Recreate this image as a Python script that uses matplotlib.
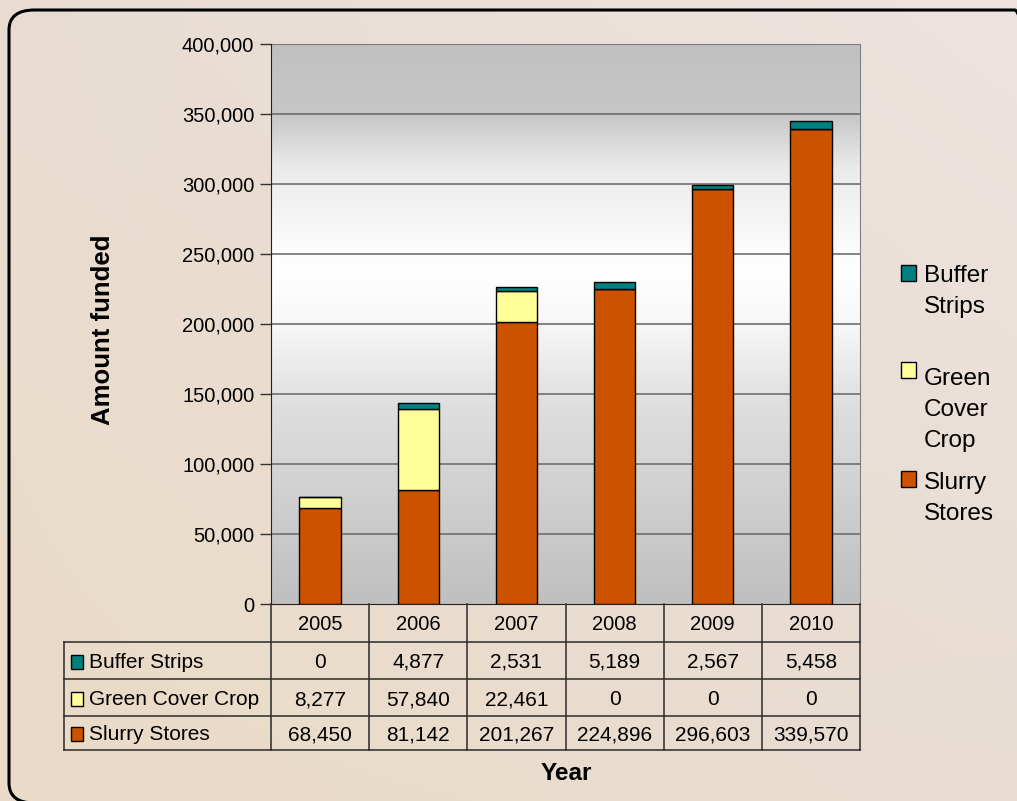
import numpy as np
import matplotlib
matplotlib.use("Agg")
import matplotlib.pyplot as plt
from matplotlib.patches import Rectangle, FancyBboxPatch
from matplotlib.lines import Line2D

# data
years = ["2005", "2006", "2007", "2008", "2009", "2010"]
series = ["Buffer Strips", "Green Cover Crop", "Slurry Stores"]
legend_labels = ["Buffer\nStrips", "Green\nCover\nCrop", "Slurry\nStores"]
buffer_strips = [0, 4877, 2531, 5189, 2567, 5458]
green_cover = [8277, 57840, 22461, 0, 0, 0]
slurry_stores = [68450, 81142, 201267, 224896, 296603, 339570]
colors = {"Buffer Strips": "#008080", "Green Cover Crop": "#ffff99", "Slurry Stores": "#cc5200"}
yticks = np.arange(0, 400001, 50000)

plt.rcParams["font.family"] = ["Liberation Sans", "DejaVu Sans"]

W, H = 1017, 801
fig = plt.figure(figsize=(W / 100, H / 100), dpi=100)

def fx(px):
    return px / W

def fy(py):
    return 1 - py / H

# parchment-ish background
bg = fig.add_axes([0, 0, 1, 1], zorder=-10)
gx = np.linspace(0, 1, 200)[None, :]
gy = np.linspace(0, 1, 200)[:, None]
base = np.array([0.910, 0.865, 0.825])
warm = np.array([0.920, 0.860, 0.760])
cool = np.array([0.935, 0.900, 0.890])
wmix = np.clip((1 - gx) * gy * 1.4, 0, 1)[..., None] * 0.6
cmix = np.clip(gx * (1 - gy), 0, 1)[..., None] * 0.8
img = base * (1 - wmix - cmix) + warm * wmix + cool * cmix
bg.imshow(img, extent=[0, 1, 0, 1], aspect="auto", origin="upper")
bg.set_xlim(0, 1)
bg.set_ylim(0, 1)
bg.axis("off")

frame = FancyBboxPatch((fx(9), fy(803)), fx(1040) - fx(9), fy(10) - fy(803),
                       boxstyle="round,pad=0,rounding_size=0.025",
                       transform=fig.transFigure, facecolor="none",
                       edgecolor="black", linewidth=2.2, zorder=5)
fig.patches.append(frame)

# main plot
x0, x1, ytop, ybot = 271, 860, 44, 604
ax = fig.add_axes([fx(x0), fy(ybot), fx(x1) - fx(x0), fy(ytop) - fy(ybot)])
ax.set_xlim(-0.5, 5.5)
ax.set_ylim(0, 400000)

# gradient plot area
stops_v = [0, 0.35, 0.5, 0.6, 0.78, 0.875, 1.0]
stops_c = [0.75, 0.87, 0.97, 1.0, 0.92, 0.78, 0.755]
vv = np.linspace(0, 1, 400)
shade = np.interp(vv, stops_v, stops_c)[:, None]
grad = np.repeat(shade[..., None], 3, axis=2)
ax.imshow(grad, extent=[-0.5, 5.5, 0, 400000], aspect="auto", origin="lower", zorder=0)

for yv in yticks[1:]:
    ax.axhline(yv, color="#6e6e6e", lw=1.2, zorder=1)

xs = np.arange(len(years))
bw = 0.42
b1 = np.array(slurry_stores)
b2 = b1 + np.array(green_cover)
ax.bar(xs, slurry_stores, bw, color=colors["Slurry Stores"], edgecolor="black", lw=1, zorder=3)
ax.bar(xs, green_cover, bw, bottom=b1, color=colors["Green Cover Crop"], edgecolor="black", lw=1, zorder=3)
ax.bar(xs, buffer_strips, bw, bottom=b2, color=colors["Buffer Strips"], edgecolor="black", lw=1, zorder=3)

ax.set_yticks(yticks)
ax.set_yticklabels([f"{int(v):,}" for v in yticks], fontsize=14.5)
ax.set_xticks([])
ax.tick_params(axis="y", length=8, width=1, color="#333333", pad=4)
for s in ["top", "right"]:
    ax.spines[s].set_color("#808080")
ax.spines["left"].set_color("#222222")
ax.spines["bottom"].set_color("#222222")
ax.spines["left"].set_zorder(4)

fig.text(fx(103), fy(330), "Amount funded", rotation=90, fontsize=18.5,
         fontweight="bold", ha="center", va="center")
fig.text(fx(566), fy(773), "Year", fontsize=17.5, fontweight="bold", ha="center", va="center")

# data table
tcol = "#2a2a2a"
colw = (x1 - x0) / len(years)
rows_y = [642, 679, 716, 750]
tleft = 64
def hline(y, xa, xb):
    fig.add_artist(Line2D([fx(xa), fx(xb)], [fy(y), fy(y)], color=tcol, lw=1.1, transform=fig.transFigure))
def vline(x, ya, yb):
    fig.add_artist(Line2D([fx(x), fx(x)], [fy(ya), fy(yb)], color=tcol, lw=1.1, transform=fig.transFigure))

for y in rows_y:
    hline(y, tleft, x1)
vline(tleft, rows_y[0], rows_y[-1])
for i in range(len(years) + 1):
    vline(x0 + i * colw, ybot, rows_y[-1])

for i, yr in enumerate(years):
    fig.text(fx(x0 + (i + 0.5) * colw), fy(623), yr, fontsize=14.5, ha="center", va="center_baseline")

table_vals = [buffer_strips, green_cover, slurry_stores]
for r, name in enumerate(series):
    yc = (rows_y[r] + rows_y[r + 1]) / 2
    fig.patches.append(Rectangle((fx(71), fy(yc + 8)), fx(12), fy(0) - fy(14),
                                 transform=fig.transFigure, facecolor=colors[name],
                                 edgecolor="black", lw=1))
    fig.text(fx(89), fy(yc), name, fontsize=15, ha="left", va="center_baseline")
    for i, v in enumerate(table_vals[r]):
        fig.text(fx(x0 + (i + 0.5) * colw), fy(yc), f"{v:,}", fontsize=15,
                 ha="center", va="center_baseline")

# legend (each line placed separately)
leg_sq = [273, 370, 479]
leg_first = [273, 376, 480]
line_gap = 31.5
for name, lab, sq, first in zip(series, legend_labels, leg_sq, leg_first):
    fig.patches.append(Rectangle((fx(901), fy(sq + 8)), fx(15), fy(0) - fy(16),
                                 transform=fig.transFigure, facecolor=colors[name],
                                 edgecolor="black", lw=1))
    for k, part in enumerate(lab.split("\n")):
        fig.text(fx(924), fy(first + k * line_gap), part, fontsize=17.5,
                 ha="left", va="center_baseline")

fig.savefig("out.png", dpi=100)
